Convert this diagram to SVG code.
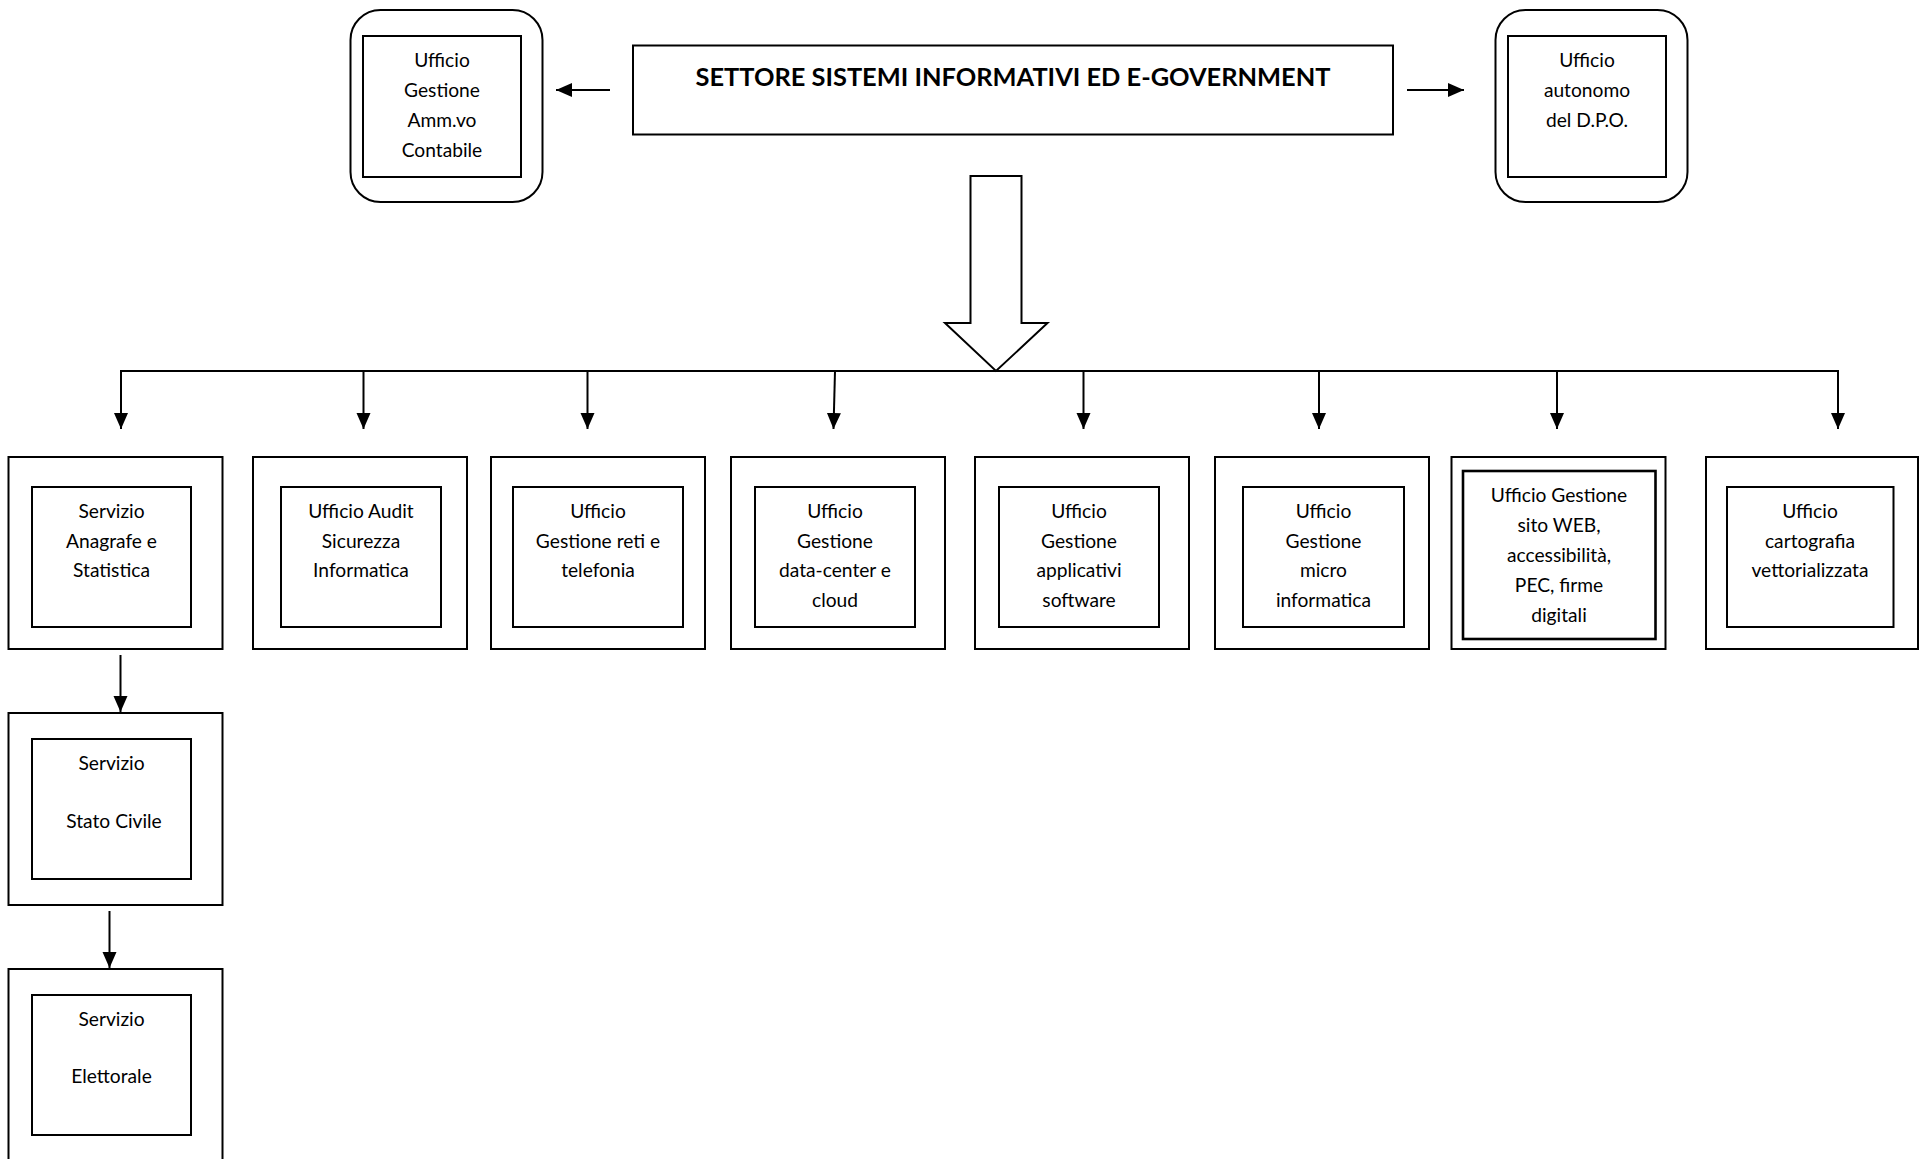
<svg xmlns="http://www.w3.org/2000/svg" width="1919" height="1159" viewBox="0 0 1919 1159">
  <style>
    .box { fill: #fff; stroke: #000; stroke-width: 2; }
    .thick { stroke-width: 2.6; }
    .line { fill: none; stroke: #000; stroke-width: 2; }
    .lbl { font-family: Lato, "Liberation Sans", sans-serif; font-size: 19.2px; fill: #000; text-anchor: middle; }
    .title { font-family: Lato, "Liberation Sans", sans-serif; font-size: 25.4px; font-weight: bold; fill: #000; text-anchor: middle; }
  </style>
  <defs>
    <marker id="head" markerUnits="userSpaceOnUse" markerWidth="17" markerHeight="15" refX="16" refY="7.5" orient="auto">
      <path d="M0,0.5 L16,7.5 L0,14.5 z" fill="#000"/>
    </marker>
  </defs>
  <rect width="1919" height="1159" fill="#fff"/>

  <!-- connectors -->
  <g id="connectors">
    <line class="line" x1="610" y1="90" x2="556" y2="90" marker-end="url(#head)"/>
    <line class="line" x1="1407" y1="90" x2="1464" y2="90" marker-end="url(#head)"/>
    <!-- block arrow from the sector down to the distribution bar -->
    <path class="box" d="M970.5,176 H1021.5 V323 H1047.5 L996,371 L945,323 H970.5 Z"/>
    <line class="line" x1="120" y1="371" x2="1839" y2="371"/>
    <line class="line" x1="121" y1="371" x2="121" y2="429" marker-end="url(#head)"/>
    <line class="line" x1="363.5" y1="371" x2="363.5" y2="429" marker-end="url(#head)"/>
    <line class="line" x1="587.5" y1="371" x2="587.5" y2="429" marker-end="url(#head)"/>
    <line class="line" x1="835" y1="371" x2="833.5" y2="429" marker-end="url(#head)"/>
    <line class="line" x1="1083.5" y1="371" x2="1083.5" y2="429" marker-end="url(#head)"/>
    <line class="line" x1="1319" y1="371" x2="1319" y2="429" marker-end="url(#head)"/>
    <line class="line" x1="1557" y1="371" x2="1557" y2="429" marker-end="url(#head)"/>
    <line class="line" x1="1838" y1="371" x2="1838" y2="429" marker-end="url(#head)"/>
    <line class="line" x1="120.5" y1="655" x2="120.5" y2="712" marker-end="url(#head)"/>
    <line class="line" x1="109.5" y1="911" x2="109.5" y2="968" marker-end="url(#head)"/>
  </g>

  <!-- top level -->
  <g id="settore">
    <rect class="box" x="633" y="45.5" width="760" height="89"/>
    <text class="title" x="1013" y="86">SETTORE SISTEMI INFORMATIVI ED E-GOVERNMENT</text>
  </g>

  <g id="uff-amm-contabile">
    <rect class="box" x="350.5" y="10" width="192" height="192" rx="30"/>
    <rect class="box" x="363" y="36" width="158" height="141"/>
    <text class="lbl" x="442" y="67">Ufficio</text>
    <text class="lbl" x="442" y="97">Gestione</text>
    <text class="lbl" x="442" y="127">Amm.vo</text>
    <text class="lbl" x="442" y="157">Contabile</text>
  </g>

  <g id="uff-dpo">
    <rect class="box" x="1495.5" y="10" width="192" height="192" rx="30"/>
    <rect class="box" x="1508" y="36" width="158" height="141"/>
    <text class="lbl" x="1587" y="67">Ufficio</text>
    <text class="lbl" x="1587" y="97">autonomo</text>
    <text class="lbl" x="1587" y="127">del D.P.O.</text>
  </g>

  <!-- second level -->
  <g id="serv-anagrafe">
    <rect class="box" x="8.5" y="457" width="214" height="192"/>
    <rect class="box" x="32" y="487" width="159" height="140"/>
    <text class="lbl" x="111.5" y="518">Servizio</text>
    <text class="lbl" x="111.5" y="548">Anagrafe e</text>
    <text class="lbl" x="111.5" y="577">Statistica</text>
  </g>

  <g id="uff-audit">
    <rect class="box" x="253" y="457" width="214" height="192"/>
    <rect class="box" x="281" y="487" width="160" height="140"/>
    <text class="lbl" x="361" y="518">Ufficio Audit</text>
    <text class="lbl" x="361" y="548">Sicurezza</text>
    <text class="lbl" x="361" y="577">Informatica</text>
  </g>

  <g id="uff-reti">
    <rect class="box" x="491" y="457" width="214" height="192"/>
    <rect class="box" x="513" y="487" width="170" height="140"/>
    <text class="lbl" x="598" y="518">Ufficio</text>
    <text class="lbl" x="598" y="548">Gestione reti e</text>
    <text class="lbl" x="598" y="577">telefonia</text>
  </g>

  <g id="uff-datacenter">
    <rect class="box" x="731" y="457" width="214" height="192"/>
    <rect class="box" x="755" y="487" width="160" height="140"/>
    <text class="lbl" x="835" y="518">Ufficio</text>
    <text class="lbl" x="835" y="548">Gestione</text>
    <text class="lbl" x="835" y="577">data-center e</text>
    <text class="lbl" x="835" y="607">cloud</text>
  </g>

  <g id="uff-applicativi">
    <rect class="box" x="975" y="457" width="214" height="192"/>
    <rect class="box" x="999" y="487" width="160" height="140"/>
    <text class="lbl" x="1079" y="518">Ufficio</text>
    <text class="lbl" x="1079" y="548">Gestione</text>
    <text class="lbl" x="1079" y="577">applicativi</text>
    <text class="lbl" x="1079" y="607">software</text>
  </g>

  <g id="uff-microinformatica">
    <rect class="box" x="1215" y="457" width="214" height="192"/>
    <rect class="box" x="1243" y="487" width="161" height="140"/>
    <text class="lbl" x="1323.5" y="518">Ufficio</text>
    <text class="lbl" x="1323.5" y="548">Gestione</text>
    <text class="lbl" x="1323.5" y="577">micro</text>
    <text class="lbl" x="1323.5" y="607">informatica</text>
  </g>

  <g id="uff-web">
    <rect class="box" x="1451.5" y="457" width="214" height="192"/>
    <rect class="box thick" x="1463" y="471" width="192.5" height="168"/>
    <text class="lbl" x="1559" y="502">Ufficio Gestione</text>
    <text class="lbl" x="1559" y="532">sito WEB,</text>
    <text class="lbl" x="1559" y="562">accessibilità,</text>
    <text class="lbl" x="1559" y="592">PEC, firme</text>
    <text class="lbl" x="1559" y="622">digitali</text>
  </g>

  <g id="uff-cartografia">
    <rect class="box" x="1706" y="457" width="212" height="192"/>
    <rect class="box" x="1727" y="487" width="166.5" height="140"/>
    <text class="lbl" x="1810" y="518">Ufficio</text>
    <text class="lbl" x="1810" y="548">cartografia</text>
    <text class="lbl" x="1810" y="577">vettorializzata</text>
  </g>

  <!-- services below Anagrafe -->
  <g id="serv-stato-civile">
    <rect class="box" x="8.5" y="713" width="214" height="192"/>
    <rect class="box" x="32" y="739" width="159" height="140"/>
    <text class="lbl" x="111.5" y="770">Servizio</text>
    <text class="lbl" x="114" y="828">Stato Civile</text>
  </g>

  <g id="serv-elettorale">
    <rect class="box" x="8.5" y="969" width="214" height="200"/>
    <rect class="box" x="32" y="995" width="159" height="140"/>
    <text class="lbl" x="111.5" y="1026">Servizio</text>
    <text class="lbl" x="111.5" y="1083">Elettorale</text>
  </g>
</svg>
